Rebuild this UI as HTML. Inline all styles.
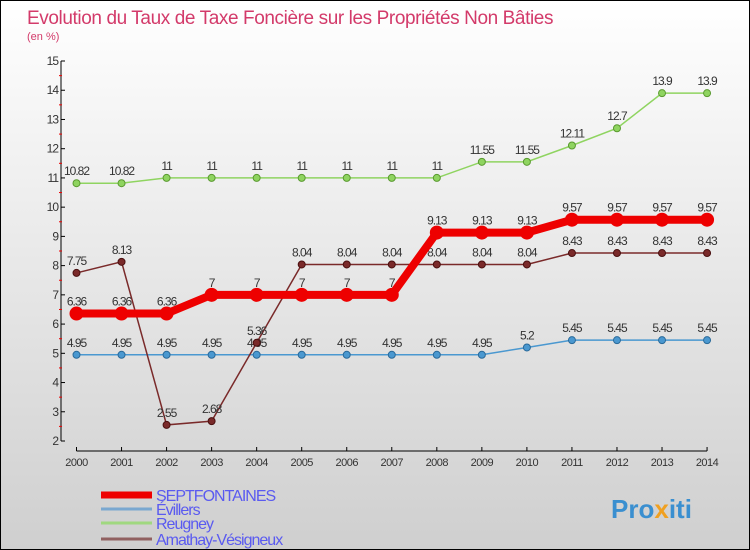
<!DOCTYPE html>
<html><head><meta charset="utf-8"><style>
body{margin:0}
#c{position:relative;width:750px;height:550px;background:linear-gradient(#ffffff,#cfcfcf);box-sizing:border-box;border:1px solid #000;overflow:hidden;font-family:"Liberation Sans",sans-serif}
</style></head><body>
<div id="c">
<svg id="s" width="750" height="550" style="position:absolute;left:0;top:0">
<text x="26" y="23" font-size="19" fill="#d33a6a" letter-spacing="-0.4">Evolution du Taux de Taxe Foncière sur les Propriétés Non Bâties</text>
<text x="26" y="39" font-size="11" fill="#d33a6a">(en %)</text>
<g id="g"></g>
<text x="610" y="517" font-size="26" font-weight="bold" fill="#3a8fd0">Pro<tspan fill="#f0a020">x</tspan>iti</text>
</svg>
</div>
<script>
const years=[2000,2001,2002,2003,2004,2005,2006,2007,2008,2009,2010,2011,2012,2013,2014];
const yTicks=[2,3,4,5,6,7,8,9,10,11,12,13,14,15];
const sept=[6.36,6.36,6.36,7,7,7,7,7,9.13,9.13,9.13,9.57,9.57,9.57,9.57];
const evillers=[4.95,4.95,4.95,4.95,4.95,4.95,4.95,4.95,4.95,4.95,5.2,5.45,5.45,5.45,5.45];
const reugney=[10.82,10.82,11,11,11,11,11,11,11,11.55,11.55,12.11,12.7,13.9,13.9];
const amathay=[7.75,8.13,2.55,2.68,5.36,8.04,8.04,8.04,8.04,8.04,8.04,8.43,8.43,8.43,8.43];
const NS='http://www.w3.org/2000/svg',g=document.getElementById('g');
const X=i=>75.5+i*45.04, Y=v=>440-(v-2)*29.23;
function el(t,a,p){const e=document.createElementNS(NS,t);for(const k in a)e.setAttribute(k,a[k]);(p||g).appendChild(e);return e;}
let ax=el('line',{x1:60,y1:Y(15),x2:60,y2:Y(2),stroke:'#000'});


let bx=el('line',{x1:X(0),y1:450,x2:X(14),y2:450,stroke:'#000'});


yTicks.forEach(v=>{
 el('line',{x1:60,y1:Y(v),x2:64,y2:Y(v),stroke:'#000'});
 if(v<15)el('line',{x1:58,y1:Y(v+0.5),x2:61,y2:Y(v+0.5),stroke:'#e00'});
 const t=el('text',{x:57,y:Y(v)+4,'text-anchor':'end','font-size':12,fill:'#333','letter-spacing':'-1'});t.textContent=v;
 
 
});
years.forEach((y,i)=>{
 el('line',{x1:X(i),y1:446,x2:X(i),y2:450,stroke:'#000'});
 const t=el('text',{x:X(i),y:465,'text-anchor':'middle','font-size':11,fill:'#333','letter-spacing':'-0.5'});t.textContent=y;
 
 
});
function series(d,col,w,r,name,dark){
 const grp=el('g',{});
 
 
 el('polyline',{points:d.map((v,i)=>X(i)+','+Y(v)).join(' '),fill:'none',stroke:col,'stroke-width':w},grp);
 d.forEach((v,i)=>{
  const c=el('circle',{cx:X(i),cy:Y(v),r:r,fill:col,stroke:dark,'stroke-width':1},grp);
  
  
  const t=el('text',{x:X(i),y:Y(v)-8,'text-anchor':'middle','font-size':12,fill:'#333','letter-spacing':'-1'},grp);
  t.textContent=String(v);
 });
}
series(reugney,'#8fd460',1.5,3.5,'series-reugney','#5a9a30');
series(evillers,'#4a98d0',1.5,3.5,'series-evillers','#2a6a9a');
series(amathay,'#7a2a2a',1.5,3.5,'series-amathay','#4a1010');
series(sept,'#ee0000',8,6.5,'series-septfontaines','#ee0000');
const leg=[['SEPTFONTAINES','#ee0000',7,494],['Évillers','#7aa8d0',3,508],['Reugney','#a0d880',3,522],['Amathay-Vésigneux','#906060',3,538]];
leg.forEach(l=>{
 const gg=el('g',{});
 
 
 el('line',{x1:100,y1:l[3],x2:151,y2:l[3],stroke:l[1],'stroke-width':l[2]},gg);
 const t=el('text',{x:155,y:l[3]+6,'font-size':16,fill:'#5a5af0','letter-spacing':'-1'},gg);t.textContent=l[0];
});
</script>
</body></html>
